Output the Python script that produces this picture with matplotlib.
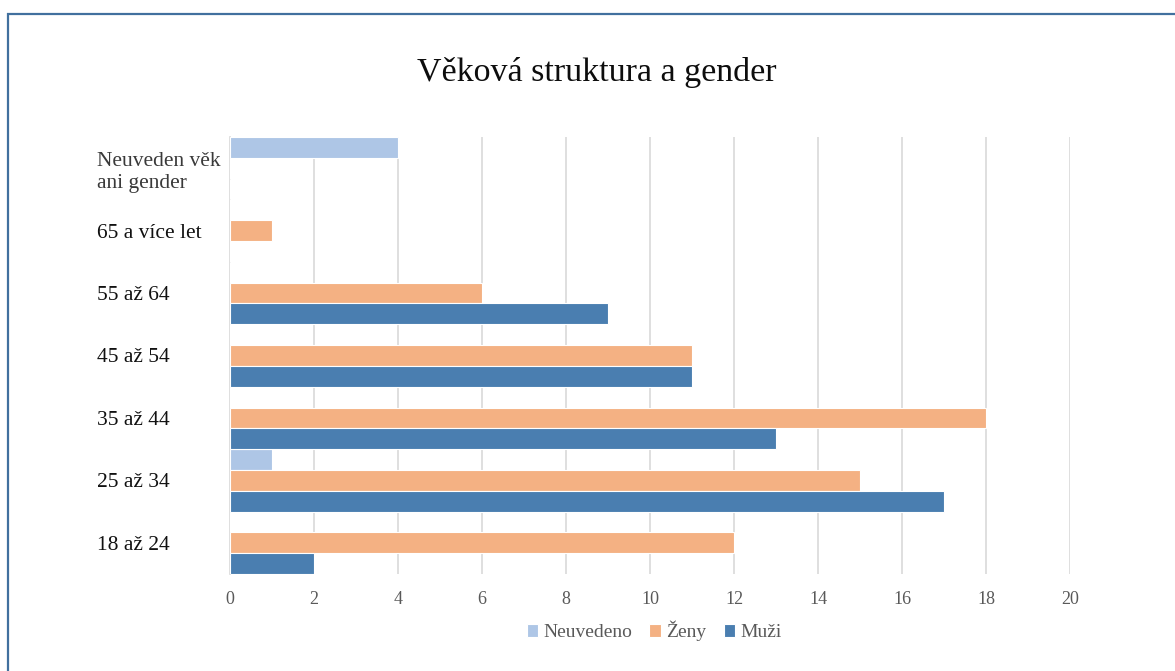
import numpy as np
import matplotlib.pyplot as plt
from matplotlib.lines import Line2D

plt.rcParams['font.family'] = ['Liberation Serif', 'DejaVu Serif']

# Data (od spodu nahoru)
categories = ['18 až 24', '25 až 34', '35 až 44', '45 až 54', '55 až 64',
              '65 a více let', 'Neuveden věk\nani gender']
neuvedeno = [0, 1, 0, 0, 0, 0, 4]
zeny = [12, 15, 18, 11, 6, 1, 0]
muzi = [2, 17, 13, 11, 9, 0, 0]
x_ticks = [0, 2, 4, 6, 8, 10, 12, 14, 16, 18, 20]

W, H = 1175, 671
fig = plt.figure(figsize=(W / 100, H / 100), dpi=100)
ax = fig.add_axes([230 / W, 1 - 574 / H, 840 / W, (574 - 137) / H])

y = np.arange(len(categories))
h = 1 / 3
ax.barh(y + h, neuvedeno, height=h, color='#AEC6E6', edgecolor='white', linewidth=0.8,
        label='Neuvedeno', zorder=3)
ax.barh(y, zeny, height=h, color='#F4B183', edgecolor='white', linewidth=0.8,
        label='Ženy', zorder=3)
ax.barh(y - h, muzi, height=h, color='#4A7EB0', edgecolor='white', linewidth=0.8,
        label='Muži', zorder=3)

ax.set_xlim(0, 20)
ax.set_ylim(-0.5, len(categories) - 0.5)
ax.set_xticks(x_ticks)
ax.grid(axis='x', color='#D9D9D9', linewidth=1.2, zorder=0)
for s in ['top', 'right', 'bottom']:
    ax.spines[s].set_visible(False)
ax.spines['left'].set_color('#D9D9D9')
ax.spines['left'].set_linewidth(1.2)
ax.tick_params(axis='x', length=0, labelsize=13, labelcolor='#595959', pad=12)
ax.tick_params(axis='y', length=0, pad=96)
ax.set_yticks(y, categories)
for i, lbl in enumerate(ax.get_yticklabels()):
    lbl.set_horizontalalignment('left')
    lbl.set_fontsize(15.5)
    if i == len(categories) - 1:
        lbl.set_color('#3A3A3A')
        lbl.set_linespacing(1.25)
        lbl.set_verticalalignment('center_baseline')
    else:
        lbl.set_color('#111111')

fig.text(597 / W, 1 - 73 / H, 'Věková struktura a gender', ha='center', va='center',
         fontsize=24.5, color='#0D0D0D')

handles, labels = ax.get_legend_handles_labels()
fig.legend(handles, labels, loc='center', bbox_to_anchor=(654 / W, 1 - 631 / H),
           ncol=3, frameon=False, fontsize=14, labelcolor='#595959',
           handlelength=0.6, handleheight=0.6, handletextpad=0.25, columnspacing=0.9)

# ramecek
fig.add_artist(Line2D([7 / W, 1], [1 - 13.5 / H, 1 - 13.5 / H], color='#41709E',
                      linewidth=1.6, solid_capstyle='butt'))
fig.add_artist(Line2D([7.5 / W, 7.5 / W], [0, 1 - 13 / H], color='#41709E',
                      linewidth=1.6, solid_capstyle='butt'))

fig.savefig('out.png', dpi=100)
